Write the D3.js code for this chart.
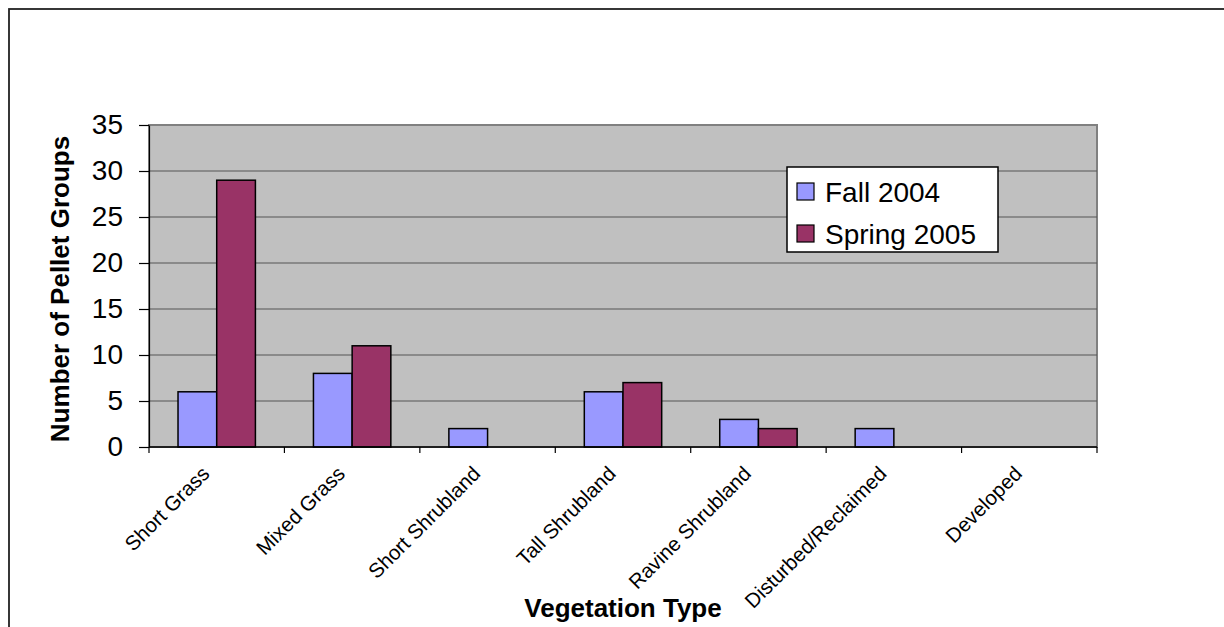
<!DOCTYPE html>
<html>
<head>
<meta charset="utf-8">
<script src="https://cdn.jsdelivr.net/npm/d3@7"></script>
<style>
  html, body { margin: 0; padding: 0; background: #fff; }
  svg { display: block; font-family: "Liberation Sans", Arial, sans-serif; }
</style>
</head>
<body>
<svg id="chart" width="1224" height="627"></svg>
<script>
// Vegetation categories along the x axis
const categories = ["Short Grass", "Mixed Grass", "Short Shrubland", "Tall Shrubland",
                    "Ravine Shrubland", "Disturbed/Reclaimed", "Developed"];
// Survey periods (series)
const seriesNames = ["Fall 2004", "Spring 2005"];
const seriesColors = ["#9999FF", "#993366"];
// Pellet group counts per category
const fall2004 = [6, 8, 2, 6, 3, 2, 0];
const spring2005 = [29, 11, 0, 7, 2, 0, 0];
// Y axis tick values
const yTicks = [0, 5, 10, 15, 20, 25, 30, 35];

const seriesValues = [fall2004, spring2005];

const svg = d3.select("#chart");
const plot = { left: 149, right: 1097, top: 125, bottom: 447 };

// Outer chart frame
svg.append("rect")
  .attr("x", 9).attr("y", 9).attr("width", 1240).attr("height", 660)
  .attr("fill", "#fff").attr("stroke", "#222").attr("stroke-width", 1.8);

const x0 = d3.scaleBand().domain(categories).range([plot.left, plot.right]).padding(0);
const x1 = d3.scaleBand().domain(d3.range(seriesNames.length))
  .range([0, x0.bandwidth()]).paddingInner(0).paddingOuter(0.75);
const y = d3.scaleLinear().domain([0, 35]).range([plot.bottom, plot.top]);

// Plot background
svg.append("rect")
  .attr("x", plot.left).attr("y", plot.top)
  .attr("width", plot.right - plot.left).attr("height", plot.bottom - plot.top)
  .attr("fill", "#C0C0C0").attr("stroke", "#808080").attr("stroke-width", 2);

// Horizontal gridlines
svg.append("g")
  .selectAll("line")
  .data(yTicks.filter(v => v > 0 && v < 35))
  .join("line")
  .attr("x1", plot.left).attr("x2", plot.right)
  .attr("y1", d => y(d)).attr("y2", d => y(d))
  .attr("stroke", "#555").attr("stroke-width", 1.2);

// Bars
const groups = svg.append("g")
  .selectAll("g")
  .data(categories)
  .join("g")
  .attr("transform", d => `translate(${x0(d)},0)`);

groups.selectAll("rect")
  .data((c, i) => seriesValues.map((vals, s) => ({ s, v: vals[i] })))
  .join("rect")
  .filter(d => d.v > 0)
  .attr("x", d => x1(d.s))
  .attr("y", d => y(d.v))
  .attr("width", x1.bandwidth())
  .attr("height", d => y(0) - y(d.v))
  .attr("fill", d => seriesColors[d.s])
  .attr("stroke", "#000").attr("stroke-width", 1.5);

// Y axis
const yAxis = svg.append("g")
  .attr("transform", `translate(${plot.left},0)`)
  .call(d3.axisLeft(y).tickValues(yTicks).tickSize(10).tickPadding(16).tickSizeOuter(0));
yAxis.select(".domain").attr("stroke", "#000").attr("stroke-width", 1.2);
yAxis.selectAll(".tick line").attr("stroke", "#000").attr("stroke-width", 1.2);
yAxis.selectAll(".tick text")
  .attr("font-size", 28).attr("fill", "#000")
  .attr("font-family", "'Liberation Sans', Arial, sans-serif");

// X axis: tick marks at category boundaries
const xAxis = svg.append("g");
xAxis.append("line")
  .attr("x1", plot.left).attr("x2", plot.right)
  .attr("y1", plot.bottom).attr("y2", plot.bottom)
  .attr("stroke", "#000").attr("stroke-width", 1.5);
xAxis.selectAll("line.tick")
  .data(categories.map(c => x0(c)).concat([plot.right]))
  .join("line")
  .attr("class", "tick")
  .attr("x1", d => d).attr("x2", d => d)
  .attr("y1", plot.bottom).attr("y2", plot.bottom + 6)
  .attr("stroke", "#000").attr("stroke-width", 1.2);

// Rotated category labels
xAxis.selectAll("text")
  .data(categories)
  .join("text")
  .attr("transform", d => `translate(${x0(d) + x0.bandwidth() / 2 - 6},${plot.bottom + 28}) rotate(-45)`)
  .attr("text-anchor", "end")
  .attr("font-size", 20.5)
  .attr("fill", "#000")
  .text(d => d);

// Axis titles
svg.append("text")
  .attr("x", (plot.left + plot.right) / 2).attr("y", 617)
  .attr("text-anchor", "middle")
  .attr("font-size", 26).attr("font-weight", "bold")
  .text("Vegetation Type");

svg.append("text")
  .attr("transform", `translate(69,${(plot.top + plot.bottom) / 2 + 3}) rotate(-90)`)
  .attr("text-anchor", "middle")
  .attr("font-size", 26).attr("font-weight", "bold")
  .text("Number of Pellet Groups");

// Legend
const legend = svg.append("g").attr("transform", "translate(787,167)");
legend.append("rect")
  .attr("width", 211).attr("height", 85)
  .attr("fill", "#fff").attr("stroke", "#000").attr("stroke-width", 1.5);
const items = legend.selectAll("g.item")
  .data(seriesNames)
  .join("g")
  .attr("class", "item")
  .attr("transform", (d, i) => `translate(10,${16 + i * 42})`);
items.append("rect")
  .attr("width", 17).attr("height", 17)
  .attr("fill", (d, i) => seriesColors[i])
  .attr("stroke", "#000").attr("stroke-width", 1.2);
items.append("text")
  .attr("x", 28).attr("y", 19)
  .attr("font-size", 28).attr("fill", "#000")
  .text(d => d);
</script>
</body>
</html>
